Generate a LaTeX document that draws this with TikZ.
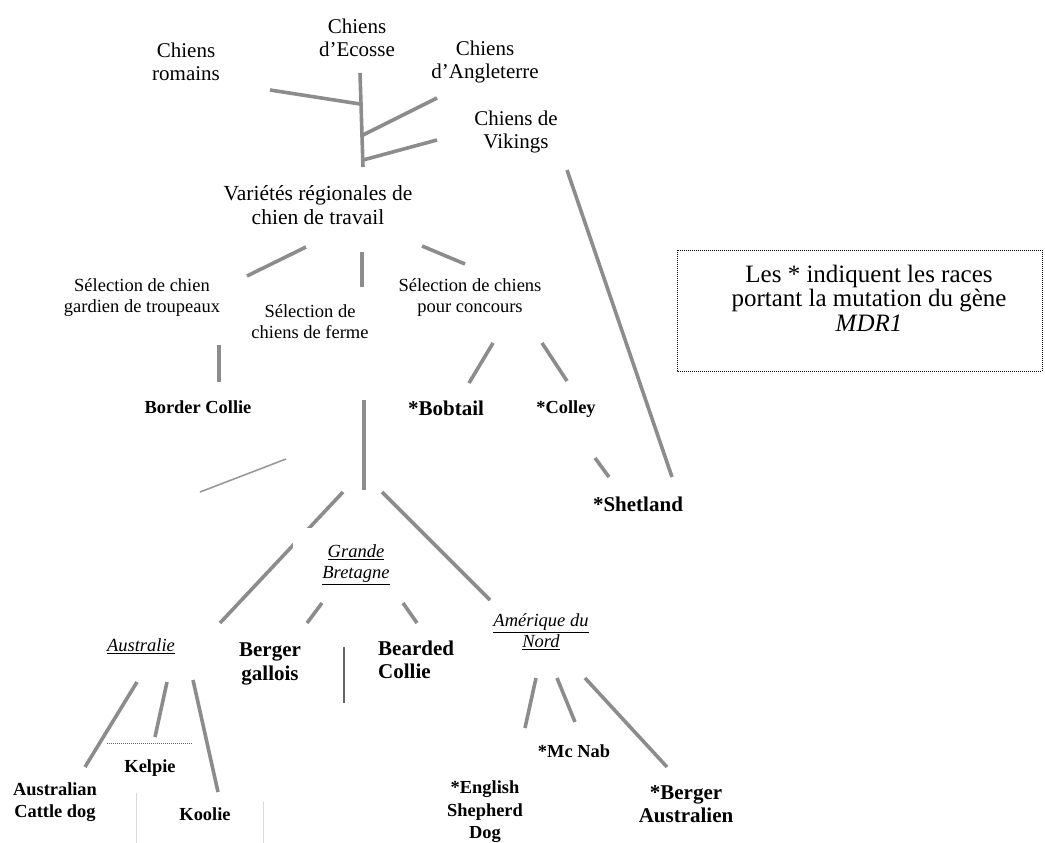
\documentclass[tikz,border=0pt]{standalone}
\usepackage{fontspec}
\setmainfont{Liberation Serif}
\begin{document}
\begin{tikzpicture}[x=1pt, y=-1pt, inner sep=0pt,
    branche/.style={draw=black!45, line width=3.6pt},
    trace/.style={draw=black!40, line width=1.6pt},
    origine/.style={font=\fontsize{21}{23}\selectfont, align=center},
    groupe/.style={font=\fontsize{18.5}{21}\selectfont, align=center},
    race/.style={font=\bfseries\fontsize{18.4}{22.5}\selectfont, align=center},
    grande/.style={font=\bfseries\fontsize{21}{23.5}\selectfont, align=center},
    pays/.style={font=\itshape\fontsize{18.5}{21}\selectfont, align=center}]
  \useasboundingbox (0,0) rectangle (1045,843);

  % origines
  \node[origine] (romains) at (186,62) {Chiens\\romains};
  \node[origine] (ecosse) at (357,38) {Chiens\\d'Ecosse};
  \node[origine] (angleterre) at (485,62) {Chiens\\d'Angleterre};
  \node[origine] (vikings) at (516,132) {Chiens de\\Vikings};
  \node[origine, font=\fontsize{21.5}{24}\selectfont] (varietes) at (318,205)
    {Variétés régionales de\\chien de travail};

  % selections
  \node[groupe] (gardien) at (142,298) {Sélection de chien\\gardien de troupeaux};
  \node[groupe] (ferme) at (310,322) {Sélection de\\chiens de ferme};
  \node[groupe] (concours) at (470,298) {Sélection de chiens\\pour concours};

  % races
  \node[race] (border) at (198,407) {Border Collie};
  \node[grande] (bobtail) at (446,408) {*Bobtail};
  \node[race] (colley) at (566,409) {*Colley};
  \node[grande] (shetland) at (638,504) {*Shetland};
  \node[grande] (gallois) at (270,664) {Berger\\gallois};
  \node[grande, align=left, anchor=west] (bearded) at (378,660) {Bearded\\Collie};
  \node[race] (kelpie) at (150,768) {Kelpie};
  \node[race] (cattle) at (55,802) {Australian\\Cattle dog};
  \node[race] (koolie) at (205,814) {Koolie};
  \node[race] (mcnab) at (574,751) {*Mc Nab};
  \node[race] (english) at (485,812) {*English\\Shepherd\\Dog};
  \node[grande] (bergeraus) at (686,804) {*Berger\\Australien};

  % pays
  \node[pays] (australie) at (141,646) {\underline{Australie}};
  \node[pays] (amerique) at (541,632) {\underline{Amérique du}\\\underline{Nord}};

  % branches du haut
  \coordinate (t1) at (360,73); \coordinate (t2) at (363,167);
  \draw[branche] (t1) -- (t2);
  \draw[branche] (270,90) coordinate (r1) -- (360,104) coordinate (r2);
  \draw[branche] (363,135) coordinate (a1) -- (437,98) coordinate (a2);
  \draw[branche] (363,160) coordinate (v1) -- (437,140) coordinate (v2);
  \draw[branche] (567,170) coordinate (s1) -- (672,477) coordinate (s2);

  % variétés -> sélections
  \draw[branche] (306,247) coordinate (g1) -- (247,276) coordinate (g2);
  \draw[branche] (362,252) coordinate (f1) -- (362,287) coordinate (f2);
  \draw[branche] (422,246) coordinate (c1) -- (465,264) coordinate (c2);

  % sélections -> races
  \draw[branche] (219,345) coordinate (b1) -- (219,382) coordinate (b2);
  \draw[branche] (493,343) coordinate (o1) -- (469,383) coordinate (o2);
  \draw[branche] (542,343) coordinate (l1) -- (567,381) coordinate (l2);
  \draw[branche] (595,458) coordinate (l3) -- (609,477) coordinate (l4);

  % chiens de ferme -> pays
  \draw[branche] (364,400) coordinate (p1) -- (364,490) coordinate (p2);
  \draw[branche] (343,492) coordinate (gb1) -- (220,623) coordinate (au1);

  \node[pays, fill=white, minimum width=126pt, minimum height=74pt] (bretagne)
    at (356,565) {\underline{Grande}\\\underline{Bretagne}};

  \draw[branche] (382,492) coordinate (gb2) -- (490,600) coordinate (am1);
  \draw[branche] (322,603) coordinate (gb3) -- (307,623) coordinate (ga1);
  \draw[branche] (403,603) coordinate (gb4) -- (417,623) coordinate (be1);

  % Australie
  \draw[branche] (137,682) coordinate (au2) -- (85,767) coordinate (ca1);
  \draw[branche] (167,682) coordinate (au3) -- (155,737) coordinate (ke1);
  \draw[branche] (193,680) coordinate (au4) -- (218,792) coordinate (ko1);

  % Amérique du Nord
  \draw[branche] (536,678) coordinate (am2) -- (525,728) coordinate (en1);
  \draw[branche] (557,678) coordinate (am3) -- (575,722) coordinate (mc1);
  \draw[branche] (585,678) coordinate (am4) -- (667,767) coordinate (ba1);

  % traits isoles
  \draw[trace] (200,492) coordinate (x1) -- (286,459) coordinate (x2);
  \draw[black!60, line width=1.2pt] (344,647) coordinate (x3) -- (344,703) coordinate (x4);
  \draw[black!60, line width=1pt, dash pattern=on 1pt off 1pt] (107,743) coordinate (x5)
    -- (192,743) coordinate (x6);
  \draw[black!15, line width=0.6pt] (136,793) coordinate (x7) -- (136,843) coordinate (x8);
  \draw[black!15, line width=0.6pt] (263,802) coordinate (x9) -- (263,843) coordinate (x10);

  % legende
  \draw[line width=1pt, dash pattern=on 1pt off 1pt] (677,250) rectangle (1042,371);
  \node[font=\fontsize{25}{24.5}\selectfont, align=center] (legende) at (869,298)
    {Les * indiquent les races\\portant la mutation du gène\\\textit{MDR1}};
\end{tikzpicture}
\end{document}
